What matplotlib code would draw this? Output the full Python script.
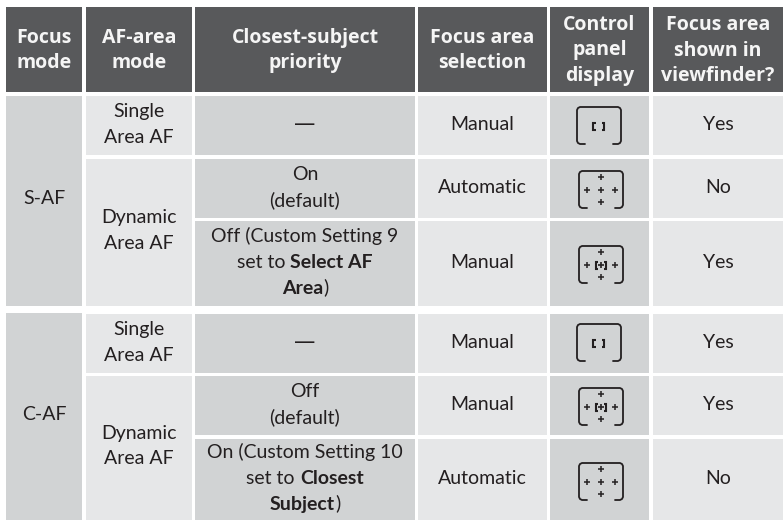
#!/usr/bin/env python3
# -*- coding: utf-8 -*-
import matplotlib
matplotlib.use("Agg")
import matplotlib.pyplot as plt
from matplotlib.patches import Rectangle

W, H = 783, 520
C_HEAD, C_DARK, C_LIGHT = "#58595b", "#d1d3d4", "#e6e7e8"
C_TEXT = "#231f20"
FONT = "Lato"
FONT_HEAD = "Open Sans"
FS_BODY = 14.0
FS_HEAD = 14.0

# column edges (x0, x1), in pixels
COLS = [(6, 82), (86, 192), (195, 415), (418, 547), (550, 649), (653, 783)]
HEAD_ROW = (7, 92)
# data rows (y0, y1), in pixels
ROWS = [(96, 155), (159, 218), (221, 306), (314, 373), (376, 435), (439, 520)]

headers = [
    ["Focus", "mode"],
    ["AF-area", "mode"],
    ["Closest-subject", "priority"],
    ["Focus area", "selection"],
    ["Control", "panel", "display"],
    ["Focus area", "shown in", "viewfinder?"],
]

# (first row, last row, lines)
focus_mode = [(0, 2, ["S-AF"]), (3, 5, ["C-AF"])]
af_area = [
    (0, 0, ["Single", "Area AF"]),
    (1, 2, ["Dynamic", "Area AF"]),
    (3, 3, ["Single", "Area AF"]),
    (4, 5, ["Dynamic", "Area AF"]),
]
priority = [
    ["—"],
    ["On", "(default)"],
    ["Off (Custom Setting 9", "set to **Select AF**", "**Area**)"],
    ["—"],
    ["Off", "(default)"],
    ["On (Custom Setting 10", "set to **Closest**", "**Subject**)"],
]
selection = ["Manual", "Automatic", "Manual", "Manual", "Manual", "Automatic"]
shown = ["Yes", "No", "Yes", "Yes", "Yes", "No"]
icons = ["single", "auto", "selected", "single", "selected", "auto"]
# icon frame top edge for each row
icon_top = [107, 171, 246, 324, 388, 463]
icon_left = [577, 579, 579, 577, 579, 579]

fig = plt.figure(figsize=(W / 100, H / 100), dpi=100)
ax = fig.add_axes([0, 0, 1, 1])
ax.set_xlim(0, W)
ax.set_ylim(H, 0)
ax.axis("off")
renderer = fig.canvas.get_renderer()


def box(x0, x1, y0, y1, color):
    ax.add_patch(Rectangle((x0, y0), x1 - x0, y1 - y0, fc=color, ec="none"))


def draw_line(line, cx, base, color, fs, bold=False, family=FONT):
    # a line can mix regular and **bold** pieces, so measure each one
    parts = line.split("**")
    pieces = []
    for i, s in enumerate(parts):
        if not s:
            continue
        weight = "bold" if (bold or i % 2 == 1) else "normal"
        t = ax.text(0, base, s, family=family, fontsize=fs, fontweight=weight,
                    color=color, ha="left", va="baseline")
        pieces.append((t, t.get_window_extent(renderer).width))
    x = cx - sum(p[1] for p in pieces) / 2
    for t, w in pieces:
        t.set_x(x)
        x += w


def draw_cell(lines, x0, x1, y0, y1, color=C_TEXT, fs=FS_BODY, bold=False, off=4.5, family=FONT):
    cx, cy = (x0 + x1) / 2, (y0 + y1) / 2 + off
    step = 25.6
    top = cy - step * (len(lines) - 1) / 2
    for i, line in enumerate(lines):
        draw_line(line, cx, top + i * step, color, fs, bold, family)


def plus(x, y, s=2.6, lw=1.1):
    ax.plot([x - s, x + s], [y, y], color=C_TEXT, lw=lw, solid_capstyle="butt")
    ax.plot([x, x], [y - s, y + s], color=C_TEXT, lw=lw, solid_capstyle="butt")


def small_brackets(cx, cy):
    for sgn in (-1, 1):
        ax.plot([cx + sgn * 3, cx + sgn * 5.3, cx + sgn * 5.3, cx + sgn * 3],
                [cy - 3.5, cy - 3.5, cy + 3.5, cy + 3.5],
                color=C_TEXT, lw=1.5, solid_joinstyle="miter", solid_capstyle="butt")


def draw_icon(kind, x0, y0, w=44, h=37):
    x1, y1 = x0 + w, y0 + h
    r = 3
    # frame: whole top and sides, only the corners at the bottom
    ax.plot([x0 + 8, x0 + r, x0 + 1, x0, x0, x0 + 1, x0 + r, x1 - r, x1 - 1, x1, x1, x1 - 1, x1 - r, x1 - 8],
            [y1, y1, y1 - 1, y1 - r, y0 + r, y0 + 1, y0, y0, y0 + 1, y0 + r, y1 - r, y1 - 1, y1, y1],
            color=C_TEXT, lw=1.3, solid_capstyle="round")
    cx, cy = x0 + w / 2, y0 + h / 2
    if kind == "single":
        small_brackets(cx - 0.5, cy + 1)
        return
    for dx, dy in [(0, -12.5), (-14, 0.5), (14, 0.5), (0, 12.5)]:
        plus(cx + dx, cy + dy)
    if kind == "auto":
        plus(cx, cy + 0.5)
    else:
        plus(cx, cy + 0.5, 2.6, 1.2)
        small_brackets(cx, cy + 0.5)


# header row
for (x0, x1), lines in zip(COLS, headers):
    box(x0, x1, HEAD_ROW[0], HEAD_ROW[1], C_HEAD)
    draw_cell(lines, x0, x1, HEAD_ROW[0], HEAD_ROW[1], color="#f5f5f5", fs=FS_HEAD,
              bold=True, off=6, family=FONT_HEAD)

# merged columns
for r0, r1, lines in focus_mode:
    x0, x1 = COLS[0]
    y0 = ROWS[r0][0] - (1 if r0 == 3 else 0)
    box(x0, x1, y0, ROWS[r1][1], C_DARK)
    draw_cell(lines, x0, x1, y0, ROWS[r1][1], off=3.5)
for r0, r1, lines in af_area:
    x0, x1 = COLS[1]
    box(x0, x1, ROWS[r0][0], ROWS[r1][1], C_LIGHT)
    draw_cell(lines, x0, x1, ROWS[r0][0], ROWS[r1][1], off=3.5 if r1 > r0 else 4.5)

# one cell per row
for i, (y0, y1) in enumerate(ROWS):
    box(COLS[2][0], COLS[2][1], y0, y1, C_DARK)
    # Lato's dash is short, DejaVu's is closer to the reference
    if priority[i] == ["—"]:
        draw_cell(priority[i], COLS[2][0], COLS[2][1], y0, y1, fs=15.5, family="DejaVu Sans")
    else:
        draw_cell(priority[i], COLS[2][0], COLS[2][1], y0, y1)
    box(COLS[3][0], COLS[3][1], y0, y1, C_LIGHT)
    draw_cell([selection[i]], COLS[3][0], COLS[3][1], y0, y1)
    box(COLS[4][0], COLS[4][1], y0, y1, C_DARK)
    draw_icon(icons[i], icon_left[i], icon_top[i])
    box(COLS[5][0], COLS[5][1], y0, y1, C_LIGHT)
    draw_cell([shown[i]], COLS[5][0], COLS[5][1], y0, y1)

fig.savefig("out.png", dpi=100)
